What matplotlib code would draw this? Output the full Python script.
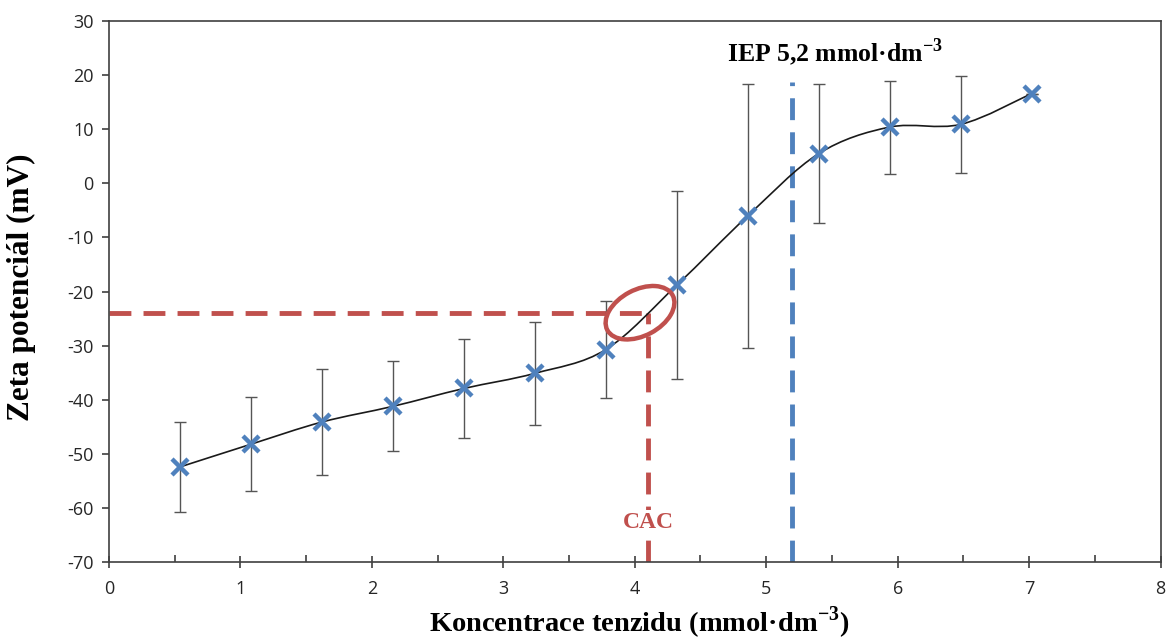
import numpy as np
import matplotlib
matplotlib.use('Agg')
import matplotlib.pyplot as plt
from matplotlib.patches import Ellipse
from matplotlib.path import Path
from matplotlib.patches import PathPatch
import matplotlib.transforms as mtrans

plt.rcParams['axes.unicode_minus'] = False
plt.rcParams['mathtext.fontset'] = 'custom'
plt.rcParams['mathtext.rm'] = 'Liberation Serif'
plt.rcParams['mathtext.bf'] = 'Liberation Serif:bold'

# data
conc = [0.54, 1.08, 1.62, 2.16, 2.70, 3.24, 3.78, 4.32, 4.86, 5.40, 5.94, 6.48, 7.02]
zeta = [-52.4, -48.2, -44.1, -41.2, -37.9, -35.1, -30.7, -18.8, -6.0, 5.5, 10.4, 10.9, 16.6]
zerr = [8.3, 8.7, 9.8, 8.3, 9.1, 9.5, 9.0, 17.3, 24.4, 12.9, 8.6, 8.9, 0.0]

cac_x = 4.10
cac_y = -24.0
iep_x = 5.2
iep_top = 18.7

xticks = [0, 1, 2, 3, 4, 5, 6, 7, 8]
yticks = [-70, -60, -50, -40, -30, -20, -10, 0, 10, 20, 30]

red = '#C0504D'
blue = '#4F81BD'
serif = 'Liberation Serif'
sans = 'Open Sans'

fig = plt.figure(figsize=(11.68, 6.44), dpi=100)
ax = fig.add_axes([0.0933, 0.127, 0.9003, 0.8404])

# smoothed line (catmull-rom as bezier, like excel's smoothed line)
P = np.column_stack([conc, zeta])
verts = [tuple(P[0])]
codes = [Path.MOVETO]
n = len(P)
for i in range(n - 1):
    p0 = P[i - 1] if i > 0 else P[i]
    p1 = P[i]
    p2 = P[i + 1]
    p3 = P[i + 2] if i + 2 < n else P[i + 1]
    c1 = p1 + (p2 - p0) / 6.0
    c2 = p2 - (p3 - p1) / 6.0
    verts += [tuple(c1), tuple(c2), tuple(p2)]
    codes += [Path.CURVE4] * 3
ax.add_patch(PathPatch(Path(verts, codes), fill=False, ec='#1a1a1a', lw=1.2, zorder=3))

# error bars
ax.errorbar(conc, zeta, yerr=zerr, fmt='none', ecolor='#555555', elinewidth=1.0,
            capsize=4.5, capthick=1.0, zorder=2)
ax.plot(conc, zeta, ls='none', marker='x', ms=12, mew=3.2, color=blue, zorder=4)

# CAC guides
ax.plot([0, cac_x], [cac_y, cac_y], color=red, lw=3.5, dashes=(4.5, 2.5), zorder=1)
ax.plot([cac_x, cac_x], [-70, cac_y], color=red, lw=3.5, dashes=(4.5, 2.5), zorder=1)
trans = fig.dpi_scale_trans + mtrans.ScaledTranslation(4.04, -23.9, ax.transData)
ax.add_patch(Ellipse((0, 0), 0.74, 0.46, angle=28, transform=trans, fill=False,
                     ec=red, lw=3.2, zorder=5))
ax.text(cac_x, -62.6, 'CAC', color=red, fontsize=17, fontweight='bold', family=serif,
        ha='center', va='center', zorder=6,
        bbox=dict(fc='white', ec='none', pad=1.5))

# IEP guide
ax.plot([iep_x, iep_x], [-70, iep_top], color=blue, lw=3.5, dashes=(4.5, 2.5), zorder=1)
ax.text(4.70, 24.2, 'IEP 5,2 mmol·dm$^{\\mathbf{-3}}$', fontsize=18.5, fontweight='bold',
        family=serif, ha='left', va='center')

ax.set_xlim(0, 8)
ax.set_ylim(-70, 30)
ax.set_xticks(xticks)
ax.set_yticks(yticks)
ax.set_xticks(np.arange(0.5, 8, 1.0), minor=True)
ax.tick_params(axis='x', which='major', direction='inout', length=9, width=1.2,
               color='#404040', pad=8, labelsize=13)
ax.tick_params(axis='x', which='minor', direction='in', length=5, width=1.2, color='#404040')
ax.tick_params(axis='y', which='major', direction='out', length=5, width=1.2,
               color='#404040', pad=6, labelsize=13)
for lab in ax.get_xticklabels() + ax.get_yticklabels():
    lab.set_family(sans)
    lab.set_color('#262626')
for s in ax.spines.values():
    s.set_color('#404040')
    s.set_linewidth(1.2)

ax.set_xlabel('Koncentrace tenzidu (mmol·dm$^{\\mathbf{-3}}$)', fontsize=20.5,
              fontweight='bold', family=serif, va='center')
ax.set_ylabel('Zeta potenciál (mV)', fontsize=22.5, fontweight='bold', family=serif,
              va='center')
ax.xaxis.set_label_coords(0.504, -0.112)
ax.yaxis.set_label_coords(-0.083, 0.508)

fig.savefig('out.png', dpi=100)
